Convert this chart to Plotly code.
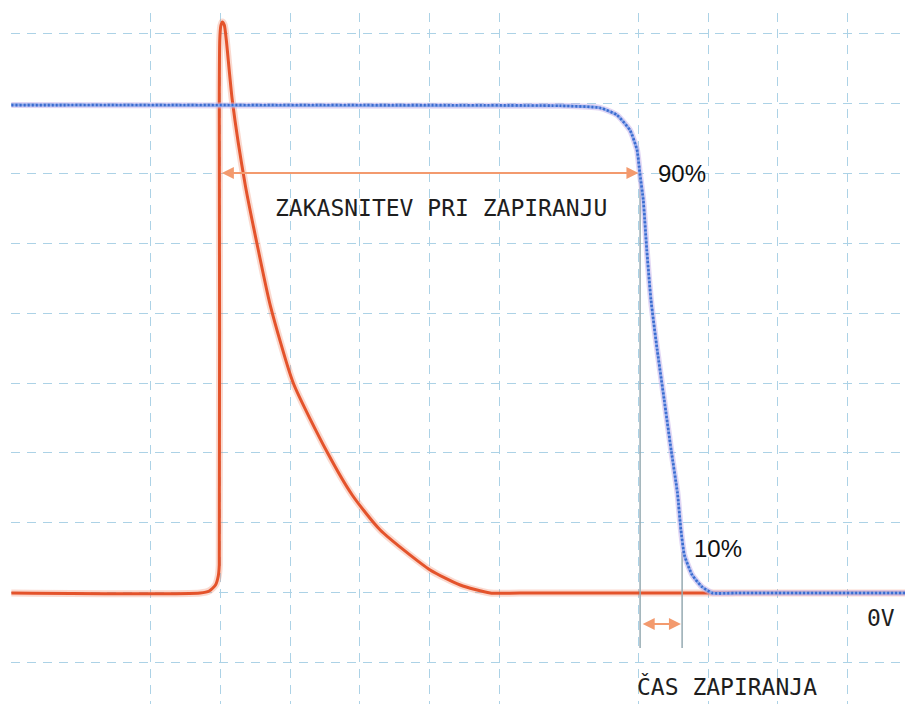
import plotly.graph_objects as go

# Oscilloscope-style traces, in screen divisions (x: time divisions, y: voltage divisions)
orange_x = [0, 2.71, 2.84, 2.93, 2.97, 2.984, 2.984, 2.991, 3.006, 3.027, 3.056, 3.085,
            3.171, 3.357, 3.544, 3.716, 4.046, 4.534, 4.892, 5.294, 6.011,
            6.442, 6.872, 7.3, 12.83]
orange_y = [0, 0, 0.029, 0.114, 0.243, 0.40, 7.04, 7.90, 8.10, 8.157, 8.114, 7.90,
            7.04, 5.83, 4.90, 4.11, 3.0, 2.01, 1.40, 0.90, 0.329,
            0.114, 0, 0, 0]

blue_x = [0, 7.88, 8.45, 8.69, 8.88, 8.98, 9.02, 9.07, 9.12, 9.18, 9.27, 9.37, 9.47,
          9.56, 9.61, 9.66, 9.77, 9.91, 10.06, 10.4, 12.83]
blue_y = [6.97, 6.96, 6.93, 6.83, 6.61, 6.33, 6.0, 5.61, 4.9, 4.19, 3.47, 2.76, 2.04,
          1.43, 0.9, 0.54, 0.26, 0.09, 0, 0, 0]

# marker lines (90 % and 10 % crossing)
mark90_x = [9.024, 9.024]
mark90_y = [6.0, -0.786]
mark10_x = [9.627, 9.627]
mark10_y = [0.586, -0.786]

grid_x = [0, 2, 3, 4, 5, 6, 7, 9, 10, 11, 12]
grid_y = [-1, 0, 1, 2, 3, 4, 5, 6, 7, 8]

delay_label = "ZAKASNITEV PRI ZAPIRANJU"
fall_label = "ČAS ZAPIRANJA"
zero_label = "0V"
pct90_label = "90%"
pct10_label = "10%"

ORANGE = "#e4532b"
ARROW = "#f39a6e"
MARKER = "#95aab2"
MONO = "DejaVu Sans Mono"

fig = go.Figure()

# orange trace with soft halo
fig.add_trace(go.Scatter(x=orange_x, y=orange_y, mode="lines",
                         line=dict(color="rgba(240,130,95,0.30)", width=7,
                                   shape="spline", smoothing=0.6),
                         hoverinfo="skip", showlegend=False))
fig.add_trace(go.Scatter(x=orange_x, y=orange_y, mode="lines",
                         line=dict(color=ORANGE, width=3, shape="spline", smoothing=0.6),
                         hoverinfo="skip", showlegend=False))

# marker lines
fig.add_trace(go.Scatter(x=mark90_x, y=mark90_y, mode="lines",
                         line=dict(color=MARKER, width=1.5),
                         hoverinfo="skip", showlegend=False))
fig.add_trace(go.Scatter(x=mark10_x, y=mark10_y, mode="lines",
                         line=dict(color=MARKER, width=1.5),
                         hoverinfo="skip", showlegend=False))

# blue rippled trace (textured line)
fig.add_trace(go.Scatter(x=blue_x, y=blue_y, mode="lines",
                         line=dict(color="rgba(200,180,235,0.55)", width=6,
                                   shape="spline", smoothing=0.5),
                         hoverinfo="skip", showlegend=False))
fig.add_trace(go.Scatter(x=blue_x, y=blue_y, mode="lines",
                         line=dict(color="#8fabea", width=3, shape="spline", smoothing=0.5),
                         hoverinfo="skip", showlegend=False))
fig.add_trace(go.Scatter(x=blue_x, y=blue_y, mode="lines",
                         line=dict(color="#3a6ad0", width=2.6, dash="2px,2px",
                                   shape="spline", smoothing=0.5),
                         hoverinfo="skip", showlegend=False))

annotations = [
    # delay arrow
    dict(x=9.0, y=6.0, ax=3.0, ay=6.0, xref="x", yref="y", axref="x", ayref="y",
         text="", showarrow=True, arrowhead=2, arrowside="end+start",
         arrowsize=1.2, arrowwidth=2, arrowcolor=ARROW),
    # fall-time arrow
    dict(x=9.61, y=-0.443, ax=9.04, ay=-0.443, xref="x", yref="y", axref="x", ayref="y",
         text="", showarrow=True, arrowhead=2, arrowside="end+start",
         arrowsize=1.2, arrowwidth=2, arrowcolor=ARROW),
    dict(x=6.169, y=5.50, xref="x", yref="y", text=delay_label, showarrow=False,
         font=dict(family=MONO, size=23, color="#1e1e1e"), xanchor="center", yanchor="middle"),
    dict(x=10.273, y=-1.33, xref="x", yref="y", text=fall_label, showarrow=False,
         font=dict(family=MONO, size=23, color="#1e1e1e"), xanchor="center", yanchor="middle"),
    dict(x=12.482, y=-0.36, xref="x", yref="y", text=zero_label, showarrow=False,
         font=dict(family=MONO, size=23, color="#1e1e1e"), xanchor="center", yanchor="middle"),
    dict(x=9.627, y=6.0, xref="x", yref="y", text=pct90_label, showarrow=False,
         font=dict(family="Liberation Sans, Arial", size=24, color="#111111"),
         xanchor="center", yanchor="middle"),
    dict(x=10.143, y=0.63, xref="x", yref="y", text=pct10_label, showarrow=False,
         font=dict(family="Liberation Sans, Arial", size=24, color="#111111"),
         xanchor="center", yanchor="middle"),
]

grid_style = dict(showgrid=True, gridcolor="#acd2e6", griddash="9px,7px", gridwidth=1.2,
                  zeroline=False, showticklabels=False, ticks="", showline=False)

fig.update_layout(
    width=905, height=704,
    margin=dict(l=11, r=0, t=13, b=0),
    paper_bgcolor="white", plot_bgcolor="white",
    showlegend=False,
    annotations=annotations,
    xaxis=dict(range=[-0.005, 12.826], tickmode="array", tickvals=grid_x, **grid_style),
    yaxis=dict(range=[-1.586, 8.286], tickmode="array", tickvals=grid_y, **grid_style),
)

fig.write_html("out.html", config={"displayModeBar": False},
               post_script="document.body.style.margin='0px';document.body.style.padding='0px';")
